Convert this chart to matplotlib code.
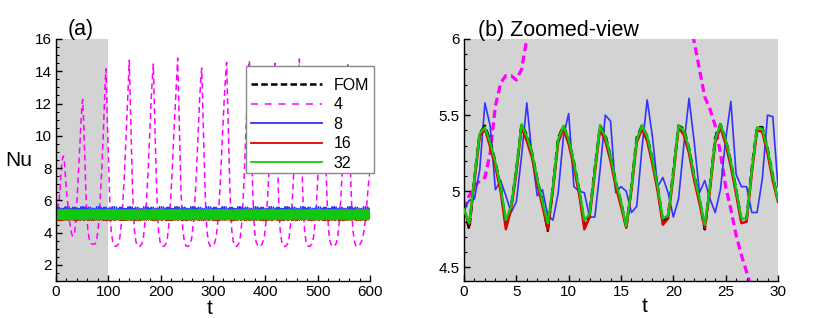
import numpy as np
import matplotlib
matplotlib.use("Agg")
import matplotlib.pyplot as plt
from matplotlib.lines import Line2D
from matplotlib.patches import Rectangle
from matplotlib.ticker import MultipleLocator

plt.rcParams['font.family'] = ['Liberation Sans', 'DejaVu Sans']

# zoomed window, t = 0..30 every 0.5
t_zoom = np.arange(0, 30.01, 0.5)

nu_fom = [4.88, 4.75, 5.09, 5.38, 5.43, 5.33, 5.19, 5.03, 4.78, 4.90, 5.14, 5.44, 5.37, 5.25, 5.08, 4.93,
          4.74, 5.03, 5.35, 5.43, 5.34, 5.19, 5.01, 4.78, 4.85, 5.15, 5.43, 5.37, 5.23, 5.06, 4.93, 4.76,
          5.03, 5.35, 5.43, 5.36, 5.21, 5.03, 4.80, 4.84, 5.13, 5.43, 5.41, 5.28, 5.10, 4.95, 4.75, 5.03,
          5.35, 5.44, 5.34, 5.19, 5.01, 4.81, 4.82, 5.15, 5.42, 5.42, 5.28, 5.10, 4.94]
nu_8 = [4.88, 4.94, 4.95, 5.14, 5.58, 5.43, 5.01, 5.07, 4.97, 4.86, 4.93, 5.23, 5.58, 5.23, 4.97, 5.01,
        4.84, 4.81, 4.99, 5.36, 5.51, 5.03, 5.00, 4.99, 4.83, 4.83, 5.14, 5.50, 5.46, 4.99, 5.03, 5.00,
        4.86, 4.90, 5.28, 5.60, 5.36, 5.03, 5.09, 4.99, 4.83, 4.95, 5.30, 5.61, 5.32, 4.99, 5.07, 4.95,
        4.86, 5.01, 5.34, 5.59, 5.11, 5.03, 5.03, 4.86, 4.86, 5.08, 5.50, 5.49, 5.03]
nu_16 = [4.88, 4.78, 5.07, 5.36, 5.41, 5.29, 5.16, 5.00, 4.75, 4.88, 5.12, 5.42, 5.33, 5.22, 5.05, 4.90,
         4.75, 5.01, 5.32, 5.41, 5.31, 5.16, 4.98, 4.75, 4.83, 5.12, 5.41, 5.33, 5.20, 5.03, 4.90, 4.76,
         5.01, 5.32, 5.41, 5.33, 5.18, 5.00, 4.78, 4.82, 5.10, 5.42, 5.37, 5.25, 5.07, 4.92, 4.76, 5.01,
         5.32, 5.42, 5.31, 5.16, 4.98, 4.79, 4.80, 5.12, 5.40, 5.39, 5.25, 5.07, 4.93]
nu_32 = [4.88, 4.79, 5.09, 5.38, 5.42, 5.32, 5.19, 5.03, 4.81, 4.90, 5.14, 5.44, 5.36, 5.25, 5.08, 4.93,
         4.79, 5.03, 5.34, 5.43, 5.34, 5.19, 5.01, 4.81, 4.85, 5.14, 5.43, 5.36, 5.23, 5.06, 4.93, 4.77,
         5.03, 5.34, 5.43, 5.36, 5.21, 5.03, 4.82, 4.84, 5.12, 5.43, 5.40, 5.28, 5.10, 4.95, 4.78, 5.03,
         5.34, 5.44, 5.34, 5.19, 5.01, 4.82, 4.82, 5.14, 5.42, 5.41, 5.28, 5.10, 4.94]

# ROM with 4 modes, whole run (start from panel b)
t_4 = [0, 0.5, 1, 1.5, 2, 2.5, 3, 3.5, 4, 4.5, 5, 5.5, 6, 7, 8, 9, 10, 11, 12, 13, 14, 15, 16, 17, 18, 19,
       20, 21, 22, 22.5, 23, 23.5, 24, 24.5, 25, 25.5, 26, 26.5, 27, 27.5, 28, 29, 30, 32, 34, 36, 38, 40,
       42, 44, 46, 48, 49.5,
       51, 53, 55, 57, 59, 61, 64, 67, 71, 75, 78, 81, 84, 87, 90, 92.5, 94,
       95.5, 97.5, 99.5, 101.5, 103.5, 105.5, 108.5, 111.5, 115.5, 119.5, 122, 125, 128, 131, 134, 137, 138.8,
       140, 142, 144, 146, 148, 150, 153, 156, 160, 164, 167, 170, 173, 176, 179, 182, 184.5,
       186, 188, 190, 192, 194, 196, 199, 202, 206, 210, 213, 216, 219, 222, 225, 228.5, 231,
       232.5, 234.5, 236.5, 238.5, 240.5, 242.5, 245.5, 248.5, 252.5, 256.5, 259.5, 262.5, 265.5, 268.5,
       271.5, 274.5, 277,
       278.5, 280.5, 282.5, 284.5, 286.5, 288.5, 291.5, 294.5, 298.5, 302.5, 306, 309, 312, 315, 318,
       321.5, 324.5,
       326, 328, 330, 332, 334, 336, 339, 342, 345.5, 349, 352, 355, 357.5, 360, 362.5, 365.5, 368,
       369.5, 371.5, 373.5, 375.5, 377.5, 379.5, 382.5, 386, 390, 394, 398, 401, 404, 407, 410, 413.5, 416.5,
       418.5, 420.5, 422.5, 424.5, 426.5, 428.5, 431.5, 434.5, 438.5, 442.5, 445.5, 448.5, 451.5, 454.5,
       457.5, 461, 463.5,
       465, 467, 469, 471, 473, 475, 478, 481, 485, 489, 492, 495, 498, 501, 504, 507, 509.5,
       511, 513, 515, 517, 519, 521, 524, 527, 531, 535, 538, 541, 544, 547, 550, 553.5, 556,
       557.5, 559.5, 561.5, 563.5, 565.5, 567.5, 570.5, 573.5, 577.5, 581.5, 584.5, 588, 591, 594, 597, 600]
nu_4 = [4.88, 4.97, 5.03, 5.07, 5.09, 5.25, 5.56, 5.71, 5.76, 5.76, 5.73, 5.80, 6.00, 6.40, 6.90, 7.40,
        7.80, 8.20, 8.50, 8.65, 8.74, 8.65, 8.40, 8.00, 7.50, 7.00, 6.60, 6.25, 5.98, 5.80, 5.62, 5.54,
        5.43, 5.25, 5.03, 4.88, 4.71, 4.58, 4.47, 4.35, 4.22, 4.05, 3.92, 3.78, 3.82, 4.10, 4.80, 5.90,
        7.20, 8.60, 9.90, 11.00, 11.80,
        12.25, 10.8, 8.6, 6.6, 5.0, 4.1, 3.5, 3.32, 3.28, 3.3, 3.6, 4.4, 5.8, 7.6, 9.8, 12.0, 13.3,
        14.15, 11.6, 9.4, 7.0, 5.2, 4.1, 3.4, 3.18, 3.15, 3.3, 3.7, 4.6, 6.0, 7.8, 10.0, 12.3, 13.8,
        14.68, 12.0, 9.5, 7.0, 5.2, 4.1, 3.4, 3.18, 3.14, 3.3, 3.7, 4.6, 6.0, 7.8, 10.0, 12.3, 13.8,
        14.45, 11.8, 9.5, 7.0, 5.2, 4.1, 3.4, 3.17, 3.14, 3.3, 3.7, 4.6, 6.0, 7.8, 10.0, 12.3, 13.9,
        14.82, 12.1, 9.5, 7.0, 5.2, 4.1, 3.4, 3.17, 3.14, 3.3, 3.7, 4.6, 6.0, 7.8, 10.0, 12.3, 13.7,
        14.2, 11.7, 9.4, 7.0, 5.2, 4.1, 3.4, 3.17, 3.14, 3.3, 3.7, 4.6, 6.0, 7.8, 10.0, 12.3, 13.9,
        14.55, 11.9, 9.5, 7.0, 5.2, 4.1, 3.4, 3.17, 3.14, 3.3, 3.7, 4.6, 6.0, 7.8, 10.0, 12.3, 13.8,
        14.66, 12.0, 9.5, 7.0, 5.2, 4.1, 3.4, 3.17, 3.14, 3.3, 3.7, 4.6, 6.0, 7.8, 10.0, 12.3, 13.8,
        14.5, 11.9, 9.5, 7.0, 5.2, 4.1, 3.4, 3.17, 3.14, 3.3, 3.7, 4.6, 6.0, 7.8, 10.0, 12.3, 13.8,
        14.76, 12.1, 9.5, 7.0, 5.2, 4.1, 3.4, 3.17, 3.14, 3.3, 3.7, 4.6, 6.0, 7.8, 10.0, 12.3, 13.6,
        14.3, 11.8, 9.4, 7.0, 5.2, 4.1, 3.4, 3.17, 3.14, 3.3, 3.7, 4.6, 6.0, 7.8, 10.0, 12.3, 13.7,
        14.4, 11.8, 9.5, 7.0, 5.2, 4.1, 3.4, 3.17, 3.14, 3.3, 3.5, 4.0, 4.8, 5.8, 7.0, 7.8]

labels = ['FOM', '4', '8', '16', '32']
col_fom, col_4, col_8, col_16, col_32 = 'black', '#ff00ff', '#3333ff', '#e00000', '#11c811'
gray = '#d3d3d3'

# the full run in panel (a) repeats the measured 30-unit window
n_rep = 20
t_full = np.arange(0, 600.01, 0.5)


def repeat_window(vals):
    v = np.asarray(vals)
    return np.concatenate([np.tile(v[:-1], n_rep), v[-1:]])


def style_axes(ax):
    for s in ['top', 'right']:
        ax.spines[s].set_visible(False)
    for s in ['left', 'bottom']:
        ax.spines[s].set_linewidth(1.0)
    ax.tick_params(which='both', direction='in', top=False, right=False, labelsize=11, pad=3)
    ax.tick_params(which='major', length=4.5, width=1.0)
    ax.tick_params(which='minor', length=2.3, width=0.8)


fig = plt.figure(figsize=(8.3, 3.18), dpi=100)

# ---------------- panel (a)
ax1 = fig.add_axes([56 / 830, 37 / 318, 314 / 830, 242 / 318])
ax1.axvspan(0, 100, color=gray, lw=0, zorder=0)
ax1.plot(t_4, nu_4, color=col_4, lw=1.1, dashes=(3.9, 2.6), zorder=1)
ax1.plot(t_full, repeat_window(nu_fom), color=col_fom, lw=1.0, dashes=(4, 2), zorder=2)
ax1.plot(t_full, repeat_window(nu_8), color=col_8, lw=1.0, zorder=2)
ax1.plot(t_full, repeat_window(nu_16), color=col_16, lw=1.0, zorder=2)
ax1.plot(t_full, repeat_window(nu_32), color=col_32, lw=1.0, zorder=2)
ax1.set_xlim(0, 600)
ax1.set_ylim(1, 16)
ax1.set_xticks(np.arange(0, 601, 100))
ax1.set_yticks(np.arange(2, 17, 2))
ax1.xaxis.set_minor_locator(MultipleLocator(20))
ax1.yaxis.set_minor_locator(MultipleLocator(0.5))
style_axes(ax1)
ax1.set_xlabel('t', fontsize=15)
ax1.xaxis.set_label_coords(0.49, -0.115)
ax1.xaxis.label.set_va('center')
ax1.set_ylabel('Nu', fontsize=15, rotation=0, va='center', ha='center')
ax1.yaxis.set_label_coords(-0.119, 0.496)
fig.text(68 / 830, 1 - 35 / 318, '(a)', fontsize=15.5, ha='left', va='baseline')

# legend (box drawn separately)
handles = [Line2D([], [], color=col_fom, lw=1.8, dashes=(2.6, 1.3)),
           Line2D([], [], color=col_4, lw=1.1, dashes=(4.5, 4.5)),
           Line2D([], [], color=col_8, lw=1.3),
           Line2D([], [], color=col_16, lw=1.3),
           Line2D([], [], color=col_32, lw=1.3)]
ax1.add_patch(Rectangle((245.7 / 830, 1 - 173.3 / 318), 128.3 / 830, 107.6 / 318,
                        transform=fig.transFigure, facecolor='white', edgecolor='#888888',
                        lw=1.0, clip_on=False, zorder=5))
leg = ax1.legend(handles, labels, loc='upper left', frameon=False, fontsize=11.5,
                 bbox_to_anchor=(250.5 / 830, 1 - 78 / 318), bbox_transform=fig.transFigure,
                 borderpad=0, borderaxespad=0, handlelength=4.45, handletextpad=0.75,
                 labelspacing=0.28)
leg.set_zorder(6)

# ---------------- panel (b)
ax2 = fig.add_axes([464 / 830, 37 / 318, 314 / 830, 242 / 318])
ax2.set_facecolor(gray)
ax2.plot(t_4, nu_4, color=col_4, lw=2.3, dashes=(2.5, 1.4), zorder=1)
ax2.plot(t_zoom, nu_8, color=col_8, lw=1.2, zorder=2)
ax2.plot(t_zoom, nu_fom, color=col_fom, lw=1.9, dashes=(3, 1.5), zorder=3)
ax2.plot(t_zoom, nu_16, color=col_16, lw=1.8, zorder=3)
ax2.plot(t_zoom, nu_32, color=col_32, lw=1.7, zorder=4)
ax2.set_xlim(0, 30)
ax2.set_ylim(4.41, 6)
ax2.set_xticks(np.arange(0, 31, 5))
ax2.set_yticks([4.5, 5, 5.5, 6])
ax2.set_yticklabels(['4.5', '5', '5.5', '6'])
ax2.xaxis.set_minor_locator(MultipleLocator(1))
ax2.yaxis.set_minor_locator(MultipleLocator(0.1))
style_axes(ax2)
ax2.set_xlabel('t', fontsize=15)
ax2.xaxis.set_label_coords(0.576, -0.105)
ax2.xaxis.label.set_va('center')
fig.text(478 / 830, 1 - 36 / 318, '(b) Zoomed-view', fontsize=15.5, ha='left', va='baseline')

fig.savefig('out.png', dpi=100)
